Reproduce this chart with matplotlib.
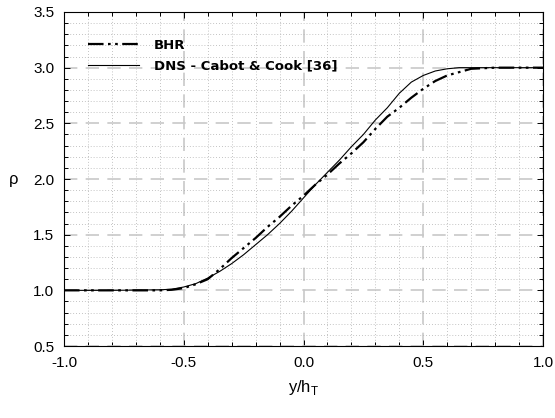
import matplotlib
matplotlib.use("Agg")
import matplotlib.pyplot as plt
from matplotlib.ticker import MultipleLocator

plt.rcParams["font.family"] = ["Liberation Sans", "DejaVu Sans"]

# profiles
x_dns = [-1.0, -0.8, -0.6, -0.55, -0.5, -0.45, -0.4, -0.35, -0.3, -0.25, -0.2,
         -0.15, -0.1, -0.05, 0.0, 0.05, 0.1, 0.15, 0.2, 0.25, 0.3, 0.35, 0.4,
         0.45, 0.5, 0.55, 0.6, 0.65, 0.7, 0.8, 1.0]
rho_dns = [1.0, 1.0, 1.005, 1.01, 1.03, 1.06, 1.11, 1.17, 1.24, 1.32, 1.41,
           1.50, 1.60, 1.71, 1.83, 1.95, 2.06, 2.17, 2.29, 2.40, 2.53, 2.64,
           2.77, 2.87, 2.93, 2.97, 2.99, 3.0, 3.0, 3.0, 3.0]

x_bhr = [-1.0, -0.8, -0.6, -0.55, -0.5, -0.45, -0.4, -0.35, -0.3, -0.25, -0.2,
         -0.15, -0.1, -0.05, 0.0, 0.05, 0.1, 0.15, 0.2, 0.25, 0.3, 0.35, 0.4,
         0.45, 0.5, 0.55, 0.6, 0.65, 0.7, 0.8, 1.0]
rho_bhr = [1.0, 1.0, 1.0, 1.005, 1.02, 1.055, 1.10, 1.19, 1.29, 1.38, 1.47,
           1.57, 1.66, 1.76, 1.85, 1.95, 2.04, 2.14, 2.23, 2.33, 2.45, 2.56,
           2.64, 2.73, 2.81, 2.88, 2.93, 2.96, 2.99, 3.0, 3.0]

fig = plt.figure(figsize=(5.55, 4.18), dpi=100)
ax = fig.add_axes([0.1153, 0.1722, 0.8631, 0.7991])

ax.plot(x_bhr, rho_bhr, color="black", lw=1.6,
        dashes=(7, 2, 1.2, 2, 1.2, 2), label="BHR", zorder=3)
ax.plot(x_dns, rho_dns, color="black", lw=0.8,
        label="DNS - Cabot & Cook [36]", zorder=3)

ax.set_xlim(-1.0, 1.0)
ax.set_ylim(0.5, 3.5)
ax.xaxis.set_major_locator(MultipleLocator(0.5))
ax.yaxis.set_major_locator(MultipleLocator(0.5))
ax.xaxis.set_minor_locator(MultipleLocator(0.1))
ax.yaxis.set_minor_locator(MultipleLocator(0.1))
ax.xaxis.set_major_formatter(plt.FormatStrFormatter("%.1f"))
ax.yaxis.set_major_formatter(plt.FormatStrFormatter("%.1f"))

ax.grid(which="minor", color="#b0b0b0", lw=0.6, linestyle=(0, (1, 2.5)), zorder=0)
ax.grid(which="major", color="#c8c8c8", lw=1.2, linestyle=(0, (8, 5)), zorder=1)

ax.tick_params(which="both", direction="in", top=True, right=True,
               labelsize=11, width=0.7, pad=7)
ax.tick_params(which="major", length=4)
ax.tick_params(which="minor", length=3)
for s in ax.spines.values():
    s.set_linewidth(0.8)

ax.set_xlabel("y/h$_\\mathregular{T}$", fontsize=12, labelpad=6)
ax.set_ylabel("ρ", fontsize=12, rotation=0, labelpad=14, va="center")

leg = ax.legend(loc="upper left", bbox_to_anchor=(0.025, 0.955), frameon=False,
                prop={"family": "DejaVu Sans", "weight": "bold", "size": 9.5},
                handlelength=3.9, handletextpad=1.1, labelspacing=0.55)

fig.savefig("out.png", dpi=100)
